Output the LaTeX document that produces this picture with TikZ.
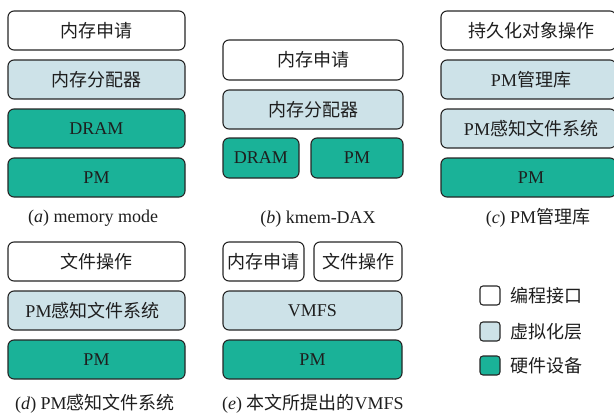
\documentclass[tikz,border=0pt]{standalone}
\usepackage{fontspec}
\setmainfont{Liberation Serif}
\newfontfamily\cjk{Noto Sans CJK SC}
\newcommand{\zh}[1]{{\cjk #1}}
\definecolor{hwc}{RGB}{26,178,152}
\definecolor{vlc}{RGB}{205,226,232}
\definecolor{txc}{RGB}{30,30,30}
\begin{document}
\begin{tikzpicture}[x=1pt,y=-1pt,
  box/.style={draw=black!85,line width=1.1pt,rounded corners=6pt},
  api/.style={box,fill=white},
  virt/.style={box,fill=vlc},
  hw/.style={box,fill=hwc},
  lbl/.style={font=\fontsize{18}{20}\selectfont,text=txc,inner sep=0pt},
  captxt/.style={font=\fontsize{18}{20}\selectfont,text=txc,inner sep=0pt},
  leg/.style={draw=black!85,line width=1.1pt,rounded corners=3pt}]
\useasboundingbox (0,0) rectangle (614,415);
% (a)
\draw[api] (8,11) rectangle (185,50); \node[lbl] (a1) at (96.5,30.5) {\zh{内存申请}};
\draw[virt] (8,60) rectangle (185,99); \node[lbl] (a2) at (96.5,79.5) {\zh{内存分配器}};
\draw[hw] (8,109) rectangle (185,148); \node[lbl] (a3) at (96.5,128.5) {DRAM};
\draw[hw] (8,158) rectangle (185,197); \node[lbl] (a4) at (96.5,177.5) {PM};
\node[captxt] (ca) at (93,218) {(\textit{a}) memory mode};
% (b)
\draw[api] (223,40) rectangle (403,80); \node[lbl] (b1) at (313,60) {\zh{内存申请}};
\draw[virt] (223,90) rectangle (403,129); \node[lbl] (b2) at (313,109.5) {\zh{内存分配器}};
\draw[hw] (223,138) rectangle (299,178); \node[lbl] (b3) at (261,158) {DRAM};
\draw[hw] (311,138) rectangle (403,178); \node[lbl] (b4) at (357,158) {PM};
\node[captxt] (cb) at (318,219) {(\textit{b}) kmem-DAX};
% (c)
\draw[api] (441,11) rectangle (616,50); \node[lbl] (c1) at (531,30.5) {\zh{持久化对象操作}};
\draw[virt] (441,60) rectangle (616,99); \node[lbl] (c2) at (531,79.5) {PM\zh{管理库}};
\draw[virt] (441,109) rectangle (616,148); \node[lbl] (c3) at (531,128.5) {PM\zh{感知文件系统}};
\draw[hw] (441,158) rectangle (616,197); \node[lbl] (c4) at (531,177.5) {PM};
\node[captxt] (cc) at (538,218) {(\textit{c}) PM\zh{管理库}};
% (d)
\draw[api] (8,242) rectangle (185,281); \node[lbl] (d1) at (96.5,261.5) {\zh{文件操作}};
\draw[virt] (8,291) rectangle (185,330); \node[lbl] (d2) at (92.5,310.5) {PM\zh{感知文件系统}};
\draw[hw] (8,340) rectangle (185,379); \node[lbl] (d3) at (96.5,359.5) {PM};
\node[captxt] (cd) at (95,404) {(\textit{d}) PM\zh{感知文件系统}};
% (e)
\draw[api] (223,242) rectangle (304,281); \node[lbl] (e1) at (263.5,261.5) {\zh{内存申请}};
\draw[api] (314,242) rectangle (402,281); \node[lbl] (e2) at (358,261.5) {\zh{文件操作}};
\draw[virt] (223,291) rectangle (402,330); \node[lbl] (e3) at (312.5,310.5) {VMFS};
\draw[hw] (223,340) rectangle (402,379); \node[lbl] (e4) at (312.5,359.5) {PM};
\node[captxt] (ce) at (313,404) {(\textit{e}) \zh{本文所提出的}VMFS};
% legend
\draw[leg,fill=white] (480,286) rectangle (500,305);
\node[lbl,anchor=west] (l1) at (510,295.5) {\zh{编程接口}};
\draw[leg,fill=vlc] (480,322) rectangle (500,341);
\node[lbl,anchor=west] (l2) at (510,331.5) {\zh{虚拟化层}};
\draw[leg,fill=hwc] (480,356) rectangle (500,375);
\node[lbl,anchor=west] (l3) at (510,365.5) {\zh{硬件设备}};
\end{tikzpicture}
\end{document}
